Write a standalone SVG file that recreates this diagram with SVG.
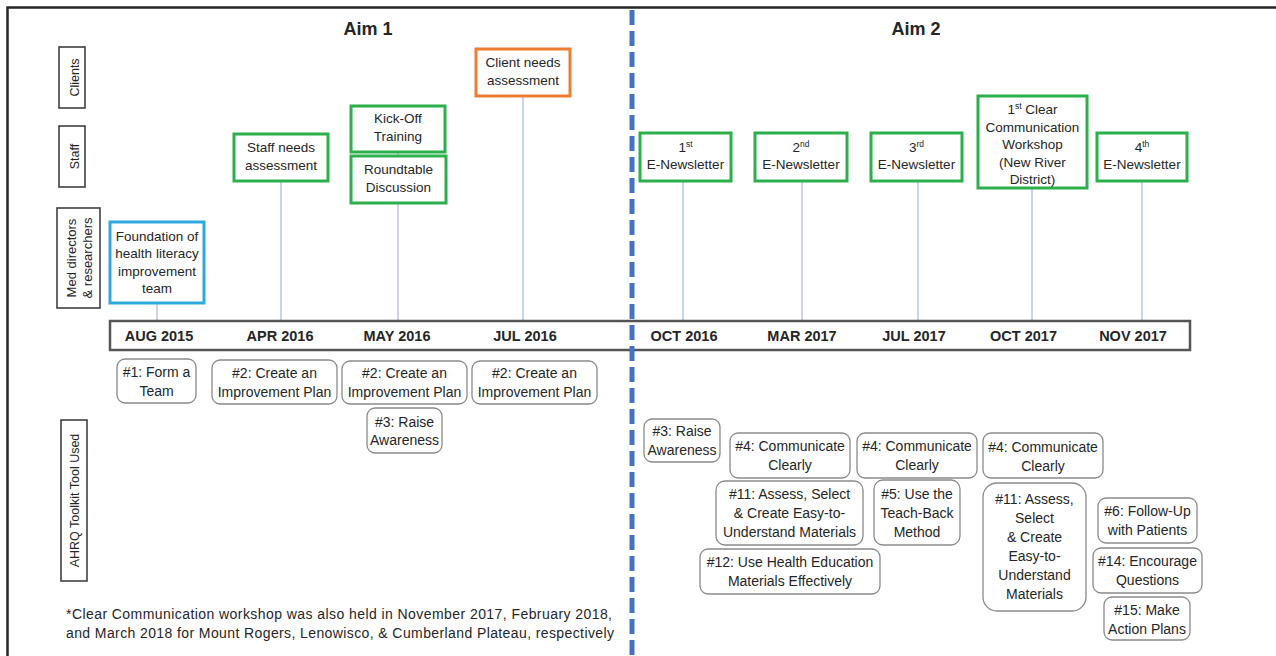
<svg xmlns="http://www.w3.org/2000/svg" width="1276" height="656" viewBox="0 0 1276 656">
<style>
text{font-family:"Liberation Sans",Arial,sans-serif;fill:#262626}
.t{font-size:13.5px;text-anchor:middle}
.b{font-size:14px;text-anchor:middle}
.lab{font-size:12.5px;text-anchor:middle}
.date{font-size:14.5px;font-weight:bold;text-anchor:middle}
.aim{font-size:18px;font-weight:bold;text-anchor:middle}
.foot{font-size:14px}
.g{fill:#fff;stroke:#2DB04B;stroke-width:3}
.rb{fill:#fff;stroke:#8a8a8a;stroke-width:1.3}
.row{fill:#fff;stroke:#404040;stroke-width:1.6}
.con{stroke:#8FAADC;stroke-width:1;fill:none}
.sup{font-size:8.5px}
</style>
<rect width="1276" height="656" fill="#fff"/>
<path d="M7.5,656 V7.5 H1276" fill="none" stroke="#262626" stroke-width="2.5"/>

<text class="aim" x="368" y="35">Aim 1</text>
<text class="aim" x="916" y="35">Aim 2</text>

<g id="row-clients"><rect class="row" x="59" y="47" width="26" height="61"/><text class="lab" transform="translate(78.5,77.5) rotate(-90)">Clients</text></g>
<g id="row-staff"><rect class="row" x="59" y="126" width="26" height="61"/><text class="lab" transform="translate(78.5,156.5) rotate(-90)">Staff</text></g>
<g id="row-med"><rect class="row" x="57" y="208" width="43" height="100"/><text class="lab" style="font-size:13px" transform="translate(75.5,258) rotate(-90)">Med directors</text><text class="lab" style="font-size:13px" transform="translate(92,258) rotate(-90)">&amp; researchers</text></g>
<g id="row-ahrq"><rect class="row" x="61" y="420" width="26" height="161"/><text class="lab" transform="translate(78.5,500.5) rotate(-90)">AHRQ Toolkit Tool Used</text></g>

<g id="connectors">
<line class="con" x1="157" y1="303" x2="157" y2="321"/>
<line class="con" x1="281" y1="181" x2="281" y2="321"/>
<line class="con" x1="398" y1="152" x2="398" y2="156"/>
<line class="con" x1="398" y1="203" x2="398" y2="321"/>
<line class="con" x1="523" y1="96" x2="523" y2="321"/>
<line class="con" x1="683" y1="181" x2="683" y2="321"/>
<line class="con" x1="802" y1="181" x2="802" y2="321"/>
<line class="con" x1="918" y1="181" x2="918" y2="321"/>
<line class="con" x1="1032" y1="188" x2="1032" y2="321"/>
<line class="con" x1="1142" y1="181" x2="1142" y2="321"/>
</g>

<g id="timeline">
<rect x="110" y="321" width="1080" height="29" fill="#fff" stroke="#555" stroke-width="2.5"/>
<text class="date" x="159" y="341">AUG 2015</text>
<text class="date" x="280" y="341">APR 2016</text>
<text class="date" x="397" y="341">MAY 2016</text>
<text class="date" x="525" y="341">JUL 2016</text>
<text class="date" x="684" y="341">OCT 2016</text>
<text class="date" x="802" y="341">MAR 2017</text>
<text class="date" x="914" y="341">JUL 2017</text>
<text class="date" x="1023.5" y="341">OCT 2017</text>
<text class="date" x="1133" y="341">NOV 2017</text>
</g>

<g id="foundation"><rect x="110" y="222" width="94" height="81" fill="#fff" stroke="#2EA9E0" stroke-width="3"/>
<text class="t" x="157" y="240.5">Foundation of</text><text class="t" x="157" y="258">health literacy</text><text class="t" x="157" y="275.5">improvement</text><text class="t" x="157" y="293">team</text></g>
<g id="staff-needs"><rect class="g" x="234" y="134" width="94" height="47"/><text class="t" x="281" y="152">Staff needs</text><text class="t" x="281" y="170">assessment</text></g>
<g id="kickoff"><rect class="g" x="351" y="106" width="94" height="46"/><text class="t" x="398" y="123">Kick-Off</text><text class="t" x="398" y="141">Training</text></g>
<g id="roundtable"><rect class="g" x="351" y="156" width="95" height="47"/><text class="t" x="398.5" y="174">Roundtable</text><text class="t" x="398.5" y="192">Discussion</text></g>
<g id="client-needs"><rect x="476" y="49" width="94" height="47" fill="#fff" stroke="#ED7D31" stroke-width="3"/><text class="t" x="523" y="67">Client needs</text><text class="t" x="523" y="85">assessment</text></g>

<g id="news1"><rect class="g" x="640" y="133" width="91" height="48"/><text class="t" x="685.5" y="152">1<tspan class="sup" dy="-5">st</tspan></text><text class="t" x="685.5" y="169">E-Newsletter</text></g>
<g id="news2"><rect class="g" x="755" y="133" width="92" height="48"/><text class="t" x="801" y="152">2<tspan class="sup" dy="-5">nd</tspan></text><text class="t" x="801" y="169">E-Newsletter</text></g>
<g id="news3"><rect class="g" x="871" y="133" width="91" height="48"/><text class="t" x="916.5" y="152">3<tspan class="sup" dy="-5">rd</tspan></text><text class="t" x="916.5" y="169">E-Newsletter</text></g>
<g id="workshop"><rect class="g" x="978" y="96" width="109" height="92"/>
<text class="t" x="1032.5" y="114">1<tspan class="sup" dy="-5">st</tspan><tspan dy="5"> Clear</tspan></text><text class="t" x="1032.5" y="131.5">Communication</text><text class="t" x="1032.5" y="149">Workshop</text><text class="t" x="1032.5" y="166.5">(New River</text><text class="t" x="1032.5" y="184">District)</text></g>
<g id="news4"><rect class="g" x="1097" y="133" width="90" height="48"/><text class="t" x="1142" y="152">4<tspan class="sup" dy="-5">th</tspan></text><text class="t" x="1142" y="169">E-Newsletter</text></g>

<line x1="632" y1="10" x2="632" y2="656" stroke="#4472C4" stroke-width="5" stroke-dasharray="15 6"/>

<g id="tool-1"><rect class="rb" x="117" y="359" width="79" height="44" rx="8"/><text class="b" x="156.5" y="376.5">#1: Form a</text><text class="b" x="156.5" y="395.5">Team</text></g>
<g id="tool-2a"><rect class="rb" x="212" y="360" width="125" height="44" rx="8"/><text class="b" x="274.5" y="377.5">#2: Create an</text><text class="b" x="274.5" y="396.5">Improvement Plan</text></g>
<g id="tool-2b"><rect class="rb" x="342" y="361" width="125" height="43" rx="8"/><text class="b" x="404.5" y="378">#2: Create an</text><text class="b" x="404.5" y="397">Improvement Plan</text></g>
<g id="tool-2c"><rect class="rb" x="472" y="361" width="125" height="43" rx="8"/><text class="b" x="534.5" y="378">#2: Create an</text><text class="b" x="534.5" y="397">Improvement Plan</text></g>
<g id="tool-3a"><rect class="rb" x="367" y="408" width="75" height="45" rx="8"/><text class="b" x="404.5" y="426.5">#3: Raise</text><text class="b" x="404.5" y="445">Awareness</text></g>

<g id="tool-3b"><rect class="rb" x="644" y="419" width="76" height="43" rx="8"/><text class="b" x="682" y="436">#3: Raise</text><text class="b" x="682" y="455">Awareness</text></g>
<g id="tool-4a"><rect class="rb" x="730" y="433" width="120" height="45" rx="8"/><text class="b" x="790" y="451">#4: Communicate</text><text class="b" x="790" y="470">Clearly</text></g>
<g id="tool-4b"><rect class="rb" x="857" y="433" width="120" height="45" rx="8"/><text class="b" x="917" y="451">#4: Communicate</text><text class="b" x="917" y="470">Clearly</text></g>
<g id="tool-4c"><rect class="rb" x="983" y="433" width="120" height="45" rx="8"/><text class="b" x="1043" y="452">#4: Communicate</text><text class="b" x="1043" y="471">Clearly</text></g>
<g id="tool-11a"><rect class="rb" x="716" y="481" width="147" height="64" rx="9"/><text class="b" x="789.5" y="499">#11: Assess, Select</text><text class="b" x="789.5" y="518">&amp; Create Easy-to-</text><text class="b" x="789.5" y="537">Understand Materials</text></g>
<g id="tool-5"><rect class="rb" x="874" y="480" width="86" height="65" rx="9"/><text class="b" x="917" y="498.5">#5: Use the</text><text class="b" x="917" y="517.5">Teach-Back</text><text class="b" x="917" y="536.5">Method</text></g>
<g id="tool-12"><rect class="rb" x="700" y="549" width="180" height="45" rx="8"/><text class="b" x="790" y="567">#12: Use Health Education</text><text class="b" x="790" y="586">Materials Effectively</text></g>
<g id="tool-11b"><rect class="rb" x="983" y="483" width="103" height="128" rx="14"/><text class="b" x="1034.5" y="504">#11: Assess,</text><text class="b" x="1034.5" y="523">Select</text><text class="b" x="1034.5" y="542">&amp; Create</text><text class="b" x="1034.5" y="561">Easy-to-</text><text class="b" x="1034.5" y="580">Understand</text><text class="b" x="1034.5" y="599">Materials</text></g>
<g id="tool-6"><rect class="rb" x="1098" y="498" width="99" height="45" rx="8"/><text class="b" x="1147.5" y="516">#6: Follow-Up</text><text class="b" x="1147.5" y="535">with Patients</text></g>
<g id="tool-14"><rect class="rb" x="1093" y="548" width="109" height="45" rx="8"/><text class="b" x="1147.5" y="566">#14: Encourage</text><text class="b" x="1147.5" y="585">Questions</text></g>
<g id="tool-15"><rect class="rb" x="1104" y="597" width="86" height="43" rx="8"/><text class="b" x="1147" y="614.5">#15: Make</text><text class="b" x="1147" y="633.5">Action Plans</text></g>

<text class="foot" x="66" y="619" textLength="546" lengthAdjust="spacing">*Clear Communication workshop was also held in November 2017, February 2018,</text>
<text class="foot" x="66" y="638" textLength="548" lengthAdjust="spacing">and March 2018 for Mount Rogers, Lenowisco, &amp; Cumberland Plateau, respectively</text>
</svg>
